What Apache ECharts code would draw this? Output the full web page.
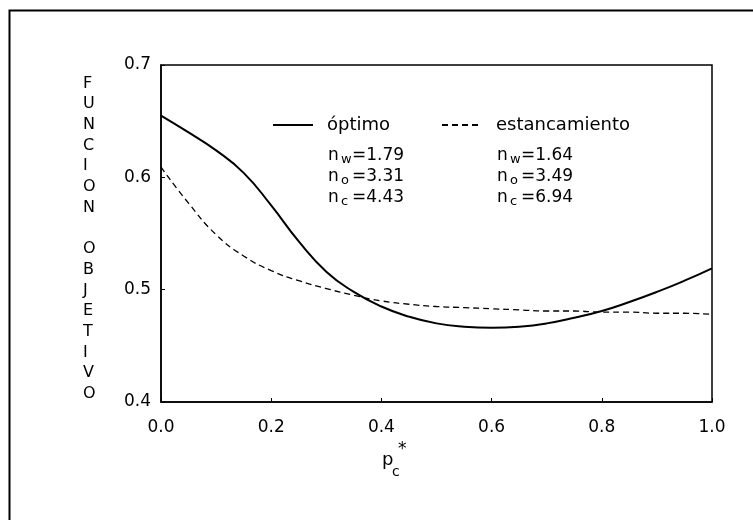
<!DOCTYPE html>
<html>
<head>
<meta charset="utf-8">
<script src="https://cdn.jsdelivr.net/npm/echarts@6/dist/echarts.min.js"></script>
<style>
  html, body { margin: 0; padding: 0; background: #fff; }
  #chart { width: 753px; height: 520px; }
</style>
</head>
<body>
<div id="chart"></div>
<script>
// ---- data ----
var pc = [0, 0.05, 0.1, 0.15, 0.2, 0.25, 0.3, 0.35, 0.4, 0.45, 0.5, 0.55, 0.6, 0.65, 0.7, 0.75, 0.8, 0.85, 0.9, 0.95, 1.0];
var optimo = [0.655, 0.640, 0.624, 0.604, 0.575, 0.543, 0.516, 0.498, 0.485, 0.476, 0.470, 0.467, 0.466, 0.467, 0.470, 0.475, 0.481, 0.489, 0.498, 0.508, 0.519];
var estancamiento = [0.609, 0.577, 0.549, 0.530, 0.517, 0.508, 0.501, 0.495, 0.490, 0.487, 0.485, 0.484, 0.483, 0.482, 0.481, 0.481, 0.480, 0.480, 0.479, 0.479, 0.478];
var seriesNames = ['óptimo', 'estancamiento'];
var paramSubs = ['w', 'o', 'c'];
var optimoParams = ['1.79', '3.31', '4.43'];
var estParams = ['1.64', '3.49', '6.94'];
var xTicks = [0, 0.2, 0.4, 0.6, 0.8, 1.0];
var yTicks = [0.4, 0.5, 0.6, 0.7];
var yTitle = 'FUNCION OBJETIVO';

// ---- build ----
function pairs(xs, ys) { return xs.map(function (x, i) { return [x, ys[i]]; }); }
var FONT = 'DejaVu Sans';

var graphics = [];
// outer frame (scan border)
graphics.push({ type: 'rect', left: 7, top: 8, shape: { x: 0, y: 0, width: 800, height: 600 },
  style: { fill: 'none', stroke: '#000', lineWidth: 2 }, silent: true });

// y title: stacked letters
graphics.push({ type: 'text', left: 83, top: 73, style: {
  text: yTitle.split('').join('\n'), font: '16px "' + FONT + '"', fill: '#000',
  lineHeight: 20.7, align: 'center' } });

// x title p*_c
graphics.push({ type: 'text', left: 382, top: 451, style: { text: 'p', font: '18px "' + FONT + '"', fill: '#000' } });
graphics.push({ type: 'text', left: 398, top: 441, style: { text: '*', font: '17px "' + FONT + '"', fill: '#000' } });
graphics.push({ type: 'text', left: 392, top: 465, style: { text: 'c', font: '14px "' + FONT + '"', fill: '#000' } });

// legend parameter blocks
function paramBlock(x0, vals) {
  vals.forEach(function (v, i) {
    var y = 147 + i * 21;
    graphics.push({ type: 'text', left: x0, top: y, style: { text: 'n', font: '17px "' + FONT + '"', fill: '#000' } });
    graphics.push({ type: 'text', left: x0 + 13, top: y + 6, style: { text: paramSubs[i], font: '13px "' + FONT + '"', fill: '#000' } });
    graphics.push({ type: 'text', left: x0 + 24, top: y, style: { text: '=' + v, font: '17px "' + FONT + '"', fill: '#000' } });
  });
}
paramBlock(328, optimoParams);
paramBlock(497, estParams);

var legendCommon = {
  itemWidth: 40, itemHeight: 14,
  itemStyle: { opacity: 0 },
  textStyle: { fontFamily: FONT, fontSize: 18, color: '#000', padding: [0, 0, 0, 9] }
};

var chart = echarts.init(document.getElementById('chart'));
chart.setOption({
  backgroundColor: '#fff',
  animation: false,
  grid: { left: 161, top: 65, right: 41, bottom: 118, show: true, borderColor: '#000', borderWidth: 1.5 },
  legend: [
    Object.assign({ data: [seriesNames[0]], left: 267, top: 111 }, legendCommon),
    Object.assign({ data: [seriesNames[1]], left: 436, top: 111 }, legendCommon)
  ],
  xAxis: {
    type: 'value', min: xTicks[0], max: xTicks[xTicks.length - 1], interval: 0.2,
    axisLine: { lineStyle: { color: '#000', width: 1.5 } },
    axisTick: { inside: true, length: 4, lineStyle: { color: '#000' } },
    splitLine: { show: false },
    axisLabel: { color: '#000', fontFamily: FONT, fontSize: 17, margin: 17,
      formatter: function (v) { return v.toFixed(1); } }
  },
  yAxis: {
    type: 'value', min: yTicks[0], max: yTicks[yTicks.length - 1], interval: 0.1,
    axisLine: { show: true, lineStyle: { color: '#000', width: 1.5 } },
    axisTick: { show: true, inside: true, length: 4, lineStyle: { color: '#000' } },
    splitLine: { show: false },
    axisLabel: { color: '#000', fontFamily: FONT, fontSize: 17, margin: 10,
      formatter: function (v) { return v.toFixed(1); } }
  },
  series: [
    { name: seriesNames[0], type: 'line', data: pairs(pc, optimo), smooth: true, symbol: 'none',
      lineStyle: { color: '#000', width: 2 }, itemStyle: { color: '#000' } },
    { name: seriesNames[1], type: 'line', data: pairs(pc, estancamiento), smooth: true, symbol: 'none',
      lineStyle: { color: '#000', width: 1.3, type: [6, 4] }, itemStyle: { color: '#000' } }
  ],
  graphic: graphics
});
</script>
</body>
</html>
